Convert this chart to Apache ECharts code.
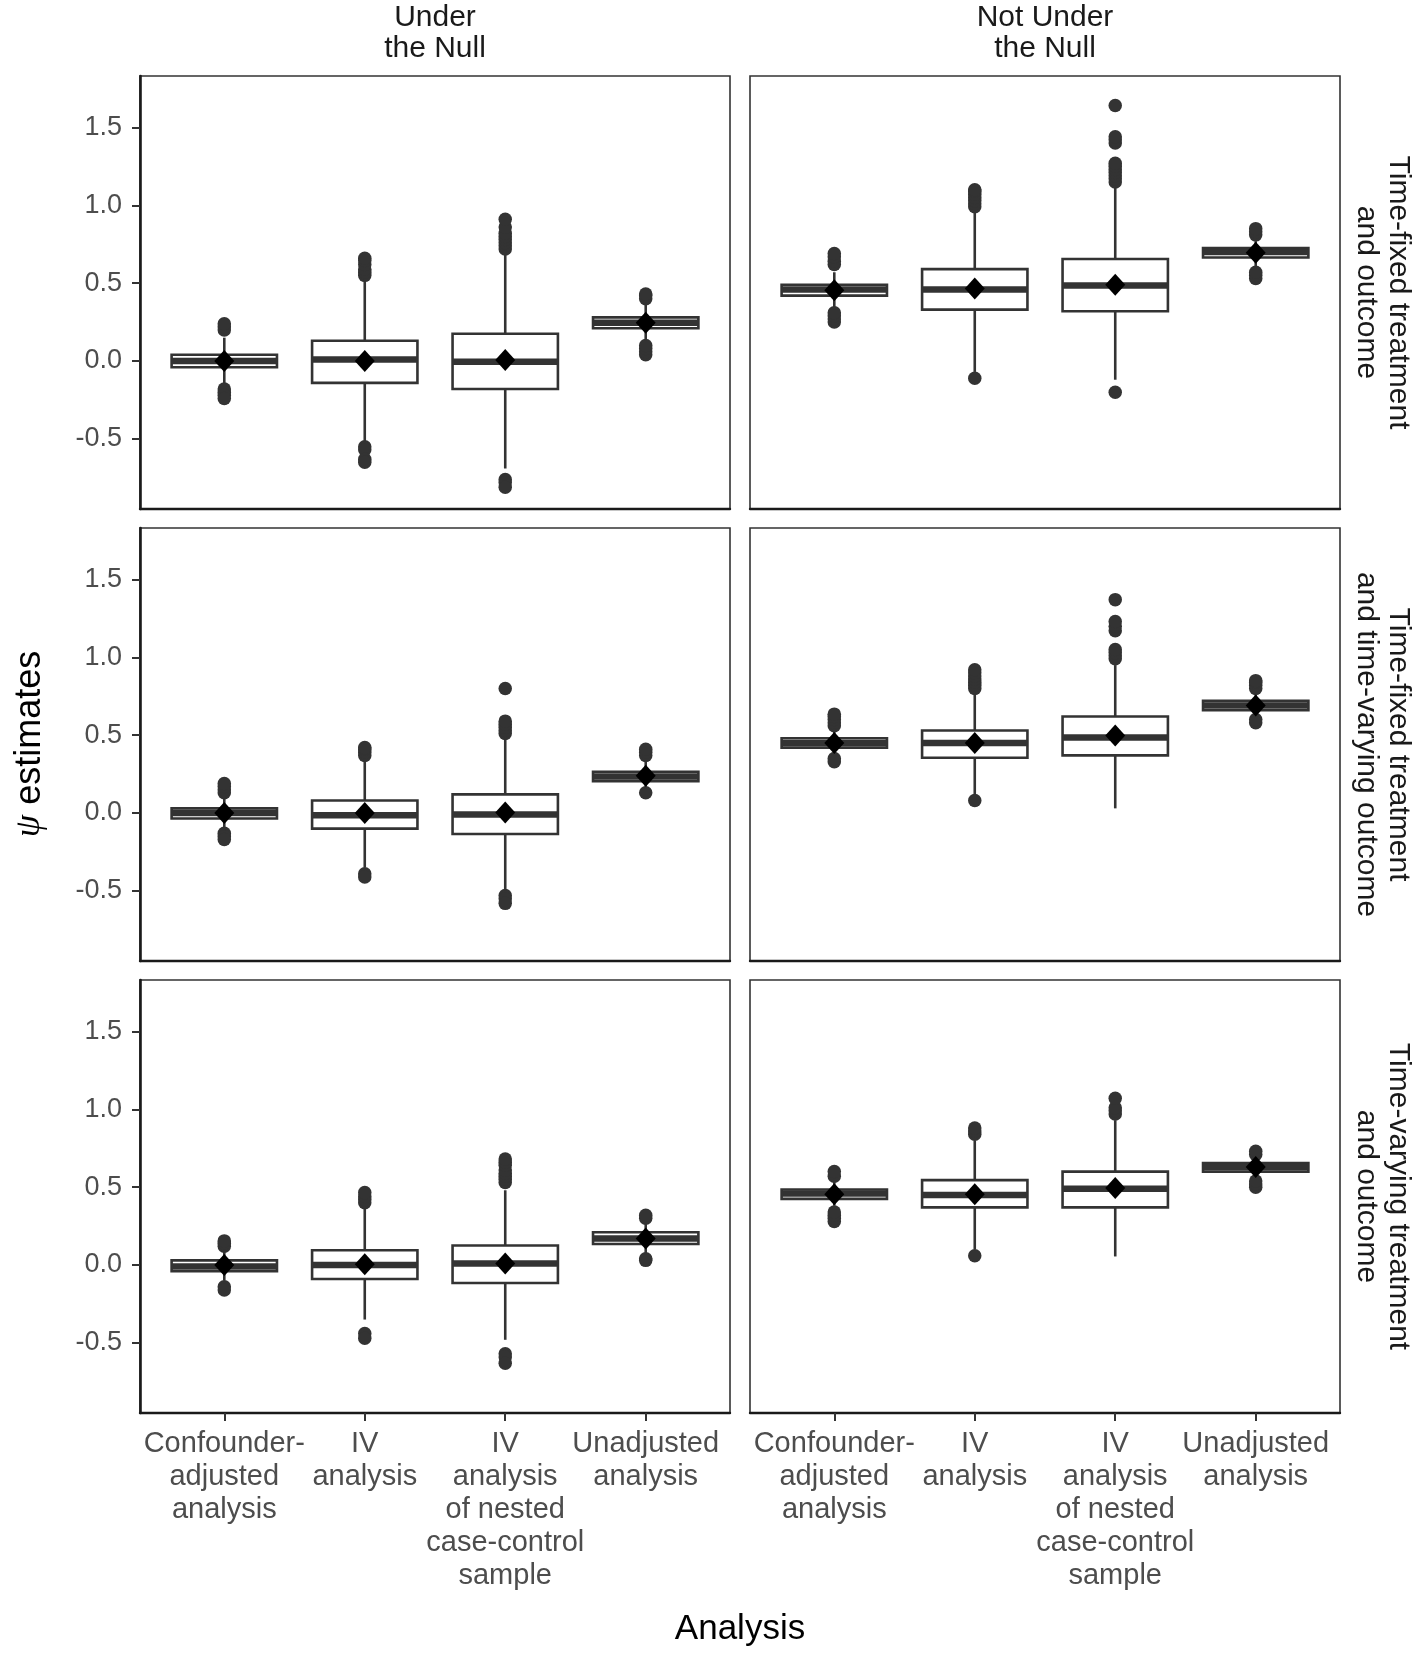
<!DOCTYPE html>
<html><head><meta charset="utf-8">
<script src="https://cdn.jsdelivr.net/npm/echarts@6/dist/echarts.min.js"></script>
<style>html,body{margin:0;padding:0;background:#fff}#chart{width:1416px;height:1654px}</style>
</head><body><div id="chart"></div><script>
// ---------- data ----------
const categories = ['Confounder-\nadjusted\nanalysis', 'IV\nanalysis', 'IV\nanalysis\nof nested\ncase-control\nsample', 'Unadjusted\nanalysis'];
const columnLabels = ['Under\nthe Null', 'Not Under\nthe Null'];
const rowLabels = ['Time-fixed treatment\nand outcome', 'Time-fixed treatment\nand time-varying outcome', 'Time-varying treatment\nand outcome'];
const yTickValues = [-0.5, 0.0, 0.5, 1.0, 1.5];
const yExtent = [-0.95, 1.83];

// box stats per category: [lower whisker, Q1, median, Q3, upper whisker]
const boxFixedNull = [[-0.15,-0.04,0.00,0.04,0.15],[-0.52,-0.14,0.01,0.13,0.53],[-0.69,-0.18,-0.005,0.175,0.71],[0.13,0.21,0.245,0.28,0.37]];
const meanFixedNull = [0.0, 0.0, 0.006, 0.245];
const outFixedNull = [[0.20,0.22,0.24,-0.18,-0.20,-0.22,-0.24],[0.55,0.57,0.59,0.62,0.645,0.66,-0.55,-0.57,-0.63,-0.65],[0.72,0.74,0.76,0.78,0.80,0.82,0.86,0.91,-0.76,-0.78,-0.81],[0.40,0.42,0.43,0.04,0.06,0.08,0.10]];

const boxFixedAlt = [[0.33,0.42,0.46,0.49,0.57],[-0.07,0.33,0.46,0.59,0.955],[-0.12,0.32,0.485,0.655,1.115],[0.60,0.665,0.70,0.725,0.77]];
const meanFixedAlt = [0.455, 0.465, 0.49, 0.695];
const outFixedAlt = [[0.62,0.64,0.67,0.69,0.25,0.27,0.29,0.31],[0.99,1.01,1.03,1.05,1.07,1.09,1.10,-0.11],[1.15,1.17,1.19,1.21,1.23,1.25,1.27,1.40,1.42,1.44,1.64,-0.20],[0.81,0.83,0.85,0.53,0.55,0.57]];

const boxMixedNull = [[-0.11,-0.035,0.0,0.03,0.11],[-0.35,-0.10,-0.015,0.08,0.34],[-0.50,-0.135,-0.01,0.12,0.47],[0.16,0.205,0.235,0.265,0.34]];
const meanMixedNull = [0.0, 0.0, 0.003, 0.24];
const outMixedNull = [[0.13,0.15,0.17,0.19,-0.13,-0.15,-0.17],[0.37,0.39,0.41,0.42,-0.39,-0.41],[0.51,0.53,0.55,0.57,0.59,0.80,-0.53,-0.55,-0.58],[0.37,0.39,0.41,0.13]];

const boxMixedAlt = [[0.39,0.42,0.45,0.48,0.54],[0.12,0.355,0.45,0.53,0.77],[0.03,0.37,0.485,0.62,0.95],[0.62,0.66,0.69,0.72,0.77]];
const meanMixedAlt = [0.45, 0.45, 0.498, 0.69];
const outMixedAlt = [[0.56,0.58,0.60,0.62,0.635,0.33,0.35],[0.80,0.82,0.84,0.86,0.88,0.90,0.92,0.08],[0.99,1.01,1.03,1.05,1.17,1.20,1.23,1.37],[0.80,0.82,0.84,0.85,0.58,0.60]];

const boxVaryingNull = [[-0.10,-0.04,-0.01,0.03,0.09],[-0.35,-0.09,0.0,0.095,0.365],[-0.48,-0.115,0.01,0.125,0.48],[0.07,0.135,0.17,0.21,0.27]];
const meanVaryingNull = [0.0, 0.005, 0.01, 0.17];
const outVaryingNull = [[0.12,0.14,0.155,-0.14,-0.16],[0.40,0.42,0.44,0.465,-0.44,-0.47],[0.53,0.55,0.57,0.59,0.61,0.64,0.66,0.68,-0.57,-0.59,-0.63],[0.30,0.32,0.03,0.04]];

const boxVaryingAlt = [[0.38,0.425,0.46,0.485,0.535],[0.10,0.37,0.45,0.545,0.80],[0.055,0.37,0.49,0.60,0.93],[0.57,0.60,0.63,0.655,0.67]];
const meanVaryingAlt = [0.455, 0.455, 0.495, 0.63];
const outVaryingAlt = [[0.57,0.60,0.28,0.30,0.32,0.34],[0.84,0.86,0.88,0.06],[0.97,0.99,1.01,1.07],[0.71,0.73,0.50,0.52,0.54]];

// ---------- layout ----------
const panels = [
  {box: boxFixedNull, mean: meanFixedNull, out: outFixedNull},
  {box: boxFixedAlt, mean: meanFixedAlt, out: outFixedAlt},
  {box: boxMixedNull, mean: meanMixedNull, out: outMixedNull},
  {box: boxMixedAlt, mean: meanMixedAlt, out: outMixedAlt},
  {box: boxVaryingNull, mean: meanVaryingNull, out: outVaryingNull},
  {box: boxVaryingAlt, mean: meanVaryingAlt, out: outVaryingAlt}
];
const COL_LEFT = [140, 750], PANEL_W = 590;
const ROW_TOP = [76, 528, 980], PANEL_H = 433;
const INSET = PANEL_W / 4.2 * 0.1;
const FONT = '"Liberation Sans", Arial, sans-serif';
const LINE = '#333333';

function renderBox(params, api) {
  const x = api.value(0);
  const pMin = api.coord([x, api.value(1)]);
  const pQ1 = api.coord([x, api.value(2)]);
  const pMed = api.coord([x, api.value(3)]);
  const pQ3 = api.coord([x, api.value(4)]);
  const pMax = api.coord([x, api.value(5)]);
  const bw = api.size([1, 0])[0] * 0.75;
  const cx = pMed[0];
  return {type: 'group', children: [
    {type: 'line', shape: {x1: cx, y1: pQ3[1], x2: cx, y2: pMax[1]}, style: {stroke: LINE, lineWidth: 2.6}},
    {type: 'line', shape: {x1: cx, y1: pQ1[1], x2: cx, y2: pMin[1]}, style: {stroke: LINE, lineWidth: 2.6}},
    {type: 'rect', shape: {x: cx - bw / 2, y: pQ3[1], width: bw, height: pQ1[1] - pQ3[1]}, style: {fill: '#fff', stroke: LINE, lineWidth: 2.6}},
    {type: 'line', shape: {x1: cx - bw / 2, y1: pMed[1], x2: cx + bw / 2, y2: pMed[1]}, style: {stroke: LINE, lineWidth: 6.5}}
  ]};
}

const grids = [], xAxes = [], yAxes = [], series = [];
for (let r = 0; r < 3; r++) {
  for (let c = 0; c < 2; c++) {
    const p = r * 2 + c, fi = 2 * p, di = 2 * p + 1;
    const left = COL_LEFT[c], top = ROW_TOP[r];
    grids.push({left: left, top: top, width: PANEL_W, height: PANEL_H, show: true, borderColor: LINE, borderWidth: 1.6, backgroundColor: '#fff'});
    grids.push({left: left + INSET, top: top, width: PANEL_W - 2 * INSET, height: PANEL_H});
    xAxes.push({gridIndex: fi, type: 'value', min: 0, max: 1,
      axisLine: {show: true, onZero: false, lineStyle: {color: '#1a1a1a', width: 2.4}},
      axisTick: {show: false}, axisLabel: {show: false}, splitLine: {show: false}});
    xAxes.push({gridIndex: di, type: 'category', data: categories, boundaryGap: true,
      axisLine: {show: false, onZero: false},
      axisTick: {show: r === 2, alignWithLabel: true, length: 8, lineStyle: {color: LINE, width: 2}},
      axisLabel: {show: r === 2, interval: 0, margin: 14, fontSize: 29, lineHeight: 33, color: '#4d4d4d', fontFamily: FONT, align: 'center'},
      splitLine: {show: false}});
    yAxes.push({gridIndex: fi, type: 'value', min: yExtent[0], max: yExtent[1],
      axisLine: {show: c === 0, onZero: false, lineStyle: {color: '#1a1a1a', width: 2.6}},
      axisTick: {show: c === 0, length: 8, customValues: yTickValues, lineStyle: {color: LINE, width: 2}},
      axisLabel: {show: c === 0, customValues: yTickValues, margin: 18, fontSize: 27, color: '#4d4d4d', fontFamily: FONT,
        formatter: v => Number(v).toFixed(1)},
      splitLine: {show: false}});
    yAxes.push({gridIndex: di, type: 'value', min: yExtent[0], max: yExtent[1], show: false, splitLine: {show: false}});

    const P = panels[p];
    const outData = [];
    P.out.forEach((arr, k) => arr.forEach(v => outData.push([k, v])));
    series.push({type: 'scatter', xAxisIndex: di, yAxisIndex: di, data: outData, symbol: 'circle', symbolSize: 13.5,
      itemStyle: {color: LINE, opacity: 1}, z: 2, silent: true});
    series.push({type: 'custom', xAxisIndex: di, yAxisIndex: di, renderItem: renderBox, z: 3, silent: true,
      encode: {x: 0, y: [1, 2, 3, 4, 5]},
      data: P.box.map((b, k) => [k, b[0], b[1], b[2], b[3], b[4]])});
    series.push({type: 'scatter', xAxisIndex: di, yAxisIndex: di, data: P.mean.map((m, k) => [k, m]), symbol: 'diamond', symbolSize: [20, 22],
      itemStyle: {color: '#000', opacity: 1}, z: 4, silent: true});
  }
}

const graphics = [];
columnLabels.forEach((t, c) => graphics.push({type: 'text', x: COL_LEFT[c] + PANEL_W / 2, y: 33,
  style: {text: t, fontSize: 30, fontFamily: FONT, fill: '#1a1a1a', align: 'center', verticalAlign: 'middle', lineHeight: 31}}));
rowLabels.forEach((t, r) => graphics.push({type: 'text', x: 1382, y: ROW_TOP[r] + PANEL_H / 2, rotation: -Math.PI / 2,
  style: {text: t, fontSize: 30, fontFamily: FONT, fill: '#1a1a1a', align: 'center', verticalAlign: 'middle', lineHeight: 32}}));
graphics.push({type: 'text', x: (COL_LEFT[0] + COL_LEFT[1] + PANEL_W) / 2, y: 1629,
  style: {text: 'Analysis', fontSize: 35, fontFamily: FONT, fill: '#000', align: 'center', verticalAlign: 'middle'}});
graphics.push({type: 'text', x: 30, y: 744, rotation: Math.PI / 2,
  style: {text: '{g|ψ} estimates', fontSize: 36, fontFamily: FONT, fill: '#000', align: 'center', verticalAlign: 'middle',
    rich: {g: {fontStyle: 'italic', fontFamily: '"Liberation Serif", "DejaVu Serif", serif', fontSize: 36, fill: '#000'}}}});

const chart = echarts.init(document.getElementById('chart'), null, {renderer: 'canvas'});
chart.setOption({
  animation: false,
  backgroundColor: '#fff',
  grid: grids, xAxis: xAxes, yAxis: yAxes, series: series, graphic: graphics
});
</script></body></html>
